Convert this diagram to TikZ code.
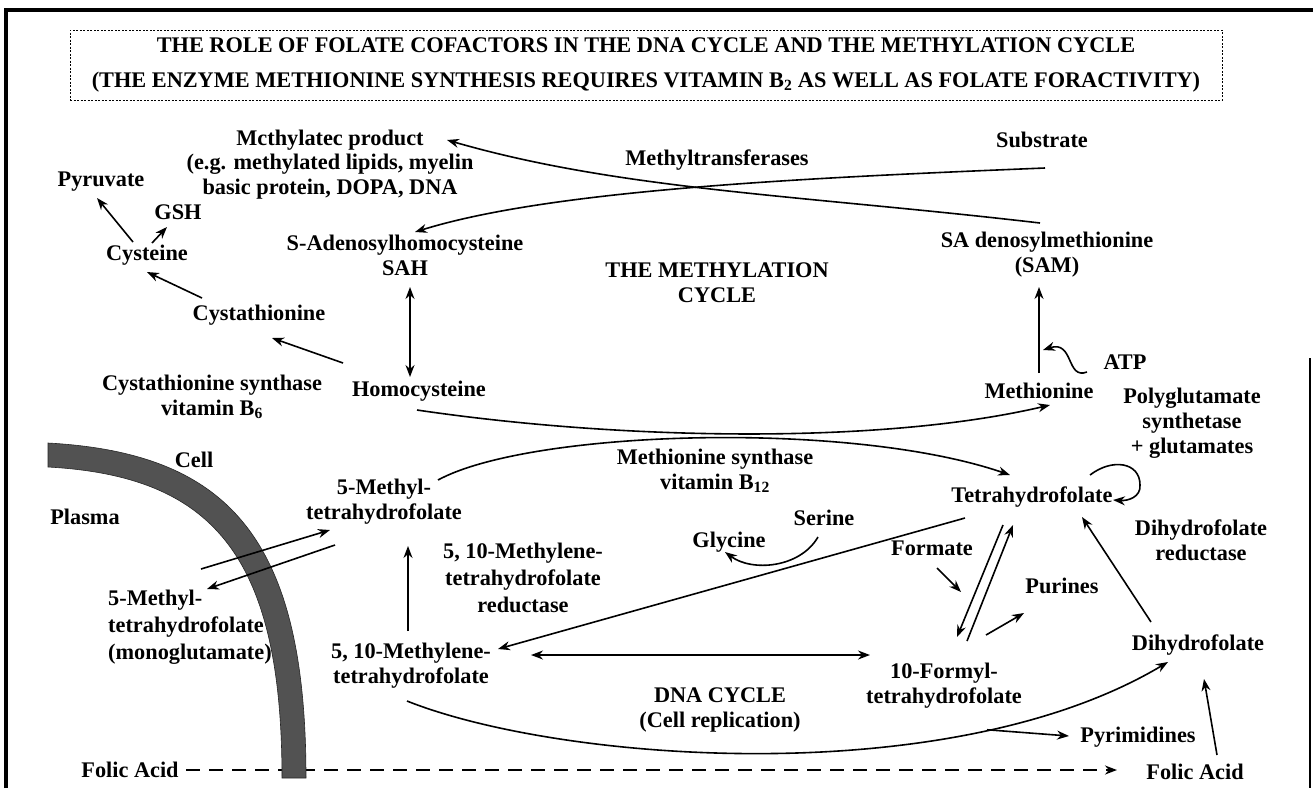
\documentclass[tikz,border=0pt]{standalone}
\usepackage{fontspec}
\setmainfont{Liberation Serif}
\usetikzlibrary{arrows.meta}
\begin{document}
\begin{tikzpicture}[x=1pt,y=-1pt]
\tikzset{
 lbl/.style={font=\bfseries\fontsize{22.3}{25}\selectfont, inner sep=0pt, align=center},
 arr/.style={line width=1.6pt, -{Stealth[length=12pt,width=9pt]}},
 darr/.style={line width=1.6pt, {Stealth[length=12pt,width=9pt]}-{Stealth[length=12pt,width=9pt]}},
 membrane/.style={fill=black!68, draw=black!85, line width=0.6pt},
 folic/.style={line width=2pt, dash pattern=on 14pt off 9pt, -{Stealth[length=12pt,width=9pt]}},
}
\useasboundingbox (0,0) rectangle (1313,788);
\fill[white] (0,0) rectangle (1313,788);
% frame
\draw[line width=3.5pt] (6,788) -- (6,10) -- (1313,10);
\draw[line width=2.5pt] (1310,358) -- (1310,788);

% title
\node[lbl, draw, dash pattern=on 2pt off 1.5pt, line width=0.8pt, minimum width=1152pt, minimum height=70pt,
      font=\bfseries\fontsize{22.3}{35}\selectfont] (title) at (646,65)
  {THE ROLE OF FOLATE COFACTORS IN THE DNA CYCLE AND THE METHYLATION CYCLE\\
   (THE ENZYME METHIONINE SYNTHESIS REQUIRES VITAMIN B\textsubscript{2} AS WELL AS FOLATE FORACTIVITY)};

% nodes
\node[lbl] (prod) at (330,140) {Mcthylatec product};
\node[lbl] (prodx) at (330,177) {(e.g. methylated lipids, myelin\\basic protein, DOPA, DNA};
\node[lbl] (sub) at (1042,140) {Substrate};
\node[lbl] (mt) at (717,160) {Methyltransferases};
\node[lbl] (pyr) at (101,182) {Pyruvate};
\node[lbl] (gsh) at (178,212) {GSH};
\node[lbl] (cys) at (147,255) {Cysteine};
\node[lbl] (sah) at (405,255) {S-Adenosylhomocysteine\\SAH};
\node[lbl] (mcyc) at (717,283) {THE METHYLATION\\CYCLE};
\node[lbl] (sam) at (1047,255) {SA denosylmethionine\\(SAM)};
\node[lbl] (cyst) at (259,315) {Cystathionine};
\node[lbl] (cbs) at (212,397) {Cystathionine synthase\\vitamin B\textsubscript{6}};
\node[lbl] (hcy) at (419,391) {Homocysteine};
\node[lbl] (atp) at (1125,362) {ATP};
\node[lbl] (met) at (1039,391) {Methionine};
\node[lbl] (pgs) at (1192,423) {Polyglutamate\\synthetase\\+ glutamates};
\node[lbl] (cell) at (194,460) {Cell};
\node[lbl] (plasma) at (85,517) {Plasma};
\node[lbl] (mthf) at (384,502) {5-Methyl-\\tetrahydrofolate};
\node[lbl] (ms) at (715,471) {Methionine synthase\\vitamin B\textsubscript{12}};
\node[lbl] (thf) at (1032,497) {Tetrahydrofolate};
\node[lbl] (dhfr) at (1201,540) {Dihydrofolate\\reductase};
\node[lbl] (ser) at (824,518) {Serine};
\node[lbl] (gly) at (729,542) {Glycine};
\node[lbl, font=\bfseries\fontsize{22.3}{27}\selectfont] (mthfr) at (523,578) {5, 10-Methylene-\\tetrahydrofolate\\reductase};
\node[lbl, align=left, anchor=west, font=\bfseries\fontsize{22.3}{27}\selectfont] (pmthf) at (108,627) {5-Methyl-\\tetrahydrofolate\\(monoglutamate)};
\node[lbl] (form) at (932,548) {Formate};
\node[lbl] (pur) at (1062,586) {Purines};
\node[lbl] (mtthf) at (411,666) {5, 10-Methylene-\\tetrahydrofolate};
\node[lbl] (fthf) at (944,686) {10-Formyl-\\tetrahydrofolate};
\node[lbl] (dna) at (720,710) {DNA CYCLE\\(Cell replication)};
\node[lbl] (dhf) at (1198,645) {Dihydrofolate};
\node[lbl] (pyrim) at (1138,737) {Pyrimidines};
\node[lbl] (fa1) at (130,770) {Folic Acid};
\node[lbl] (fa2) at (1195,772) {Folic Acid};

% folic acid transport (dashed) and membrane
\draw[folic] ([shift={(56,0)}]fa1.center) -- ([shift={(-78,-2)}]fa2.center);
\path[membrane] (48,443) .. controls (230,453) and (306,540) .. (306,778)
   -- (282,778) .. controls (282,552) and (210,476) .. (48,467) -- cycle;

% methylation cycle
\draw[arr] ([shift={(-7,-32)}]sam.center) .. controls (800,195) and (620,190) .. ([shift={(117,0)}]prod.center);
\draw[arr] ([shift={(3,28)}]sub.center) .. controls (800,178) and (550,190) .. ([shift={(10,-23)}]sah.center);
\draw[arr] ([shift={(-14,-13)}]cys.center) -- ([shift={(-4,16)}]pyr.center);
\draw[arr] ([shift={(5,-12)}]cys.center) -- ([shift={(-11,15)}]gsh.center);
\draw[arr] ([shift={(-57,-17)}]cyst.center) -- ([shift={(0,17)}]cys.center);
\draw[arr] ([shift={(-76,-28)}]hcy.center) -- ([shift={(13,23)}]cyst.center);
\draw[darr] ([shift={(5,32)}]sah.center) -- ([shift={(-9,-14)}]hcy.center);
\draw[arr] ([shift={(0,-18)}]met.center) -- ([shift={(-8,32)}]sam.center);
\draw[arr] ([shift={(-38,10)}]atp.center) .. controls (1066,380) and (1074,340) .. ([shift={(4,-41)}]met.center);
\draw[arr] ([shift={(-2,19)}]hcy.center) .. controls (620,440) and (880,445) .. ([shift={(11,14)}]met.center);
\draw[arr] ([shift={(54,-22)}]mthf.center) .. controls (530,430) and (850,420) .. ([shift={(-22,-22)}]thf.center);
\draw[arr] ([shift={(58,-22)}]thf.center) .. controls (1112,458) and (1140,462) .. ([shift={(108,-12)}]thf.center)
   .. controls (1141,497) and (1128,501) .. ([shift={(81,3)}]thf.center);

% transport across membrane
\draw[arr] ([shift={(93,-58)}]pmthf.west) -- ([shift={(-54,28)}]mthf.center);
\draw[arr] ([shift={(-49,43)}]mthf.center) -- ([shift={(99,-38)}]pmthf.west);

% DNA cycle
\draw[arr] ([shift={(-3,-35)}]mtthf.center) -- ([shift={(24,44)}]mthf.center);
\draw[arr] ([shift={(-67,21)}]thf.center) -- ([shift={(87,-17)}]mtthf.center);
\draw[arr] ([shift={(-6,19)}]ser.center) .. controls (800,568) and (752,572) .. ([shift={(-4,10)}]gly.center);
\draw[darr] ([shift={(120,-11)}]mtthf.center) -- ([shift={(-74,-31)}]fthf.center);
\draw[arr] ([shift={(5,20)}]form.center) -- ([shift={(29,44)}]form.center);
\draw[arr] ([shift={(-29,28)}]thf.center) -- ([shift={(13,-49)}]fthf.center);
\draw[arr] ([shift={(23,-45)}]fthf.center) -- ([shift={(-19,28)}]thf.center);
\draw[arr] ([shift={(42,-51)}]fthf.center) -- ([shift={(-38,27)}]pur.center);
\draw[arr] ([shift={(-47,-23)}]dhf.center) -- ([shift={(50,20)}]thf.center);
\draw[arr] ([shift={(-4,35)}]mtthf.center) .. controls (560,762) and (950,792) .. coordinate[pos=0.76] (br) ([shift={(-30,17)}]dhf.center);
\draw[arr] (br) -- ([shift={(-69,-1)}]pyrim.center);
\draw[arr] ([shift={(22,-17)}]fa2.center) -- ([shift={(6,34)}]dhf.center);
\end{tikzpicture}
\end{document}
